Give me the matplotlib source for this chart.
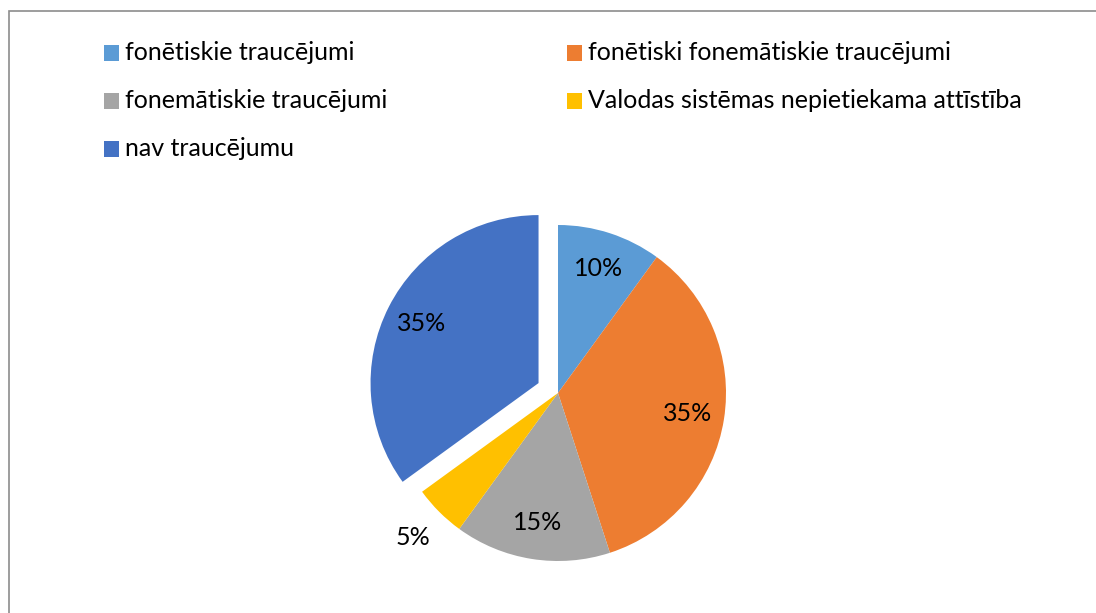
import matplotlib.pyplot as plt
from matplotlib.patches import Rectangle

categories = ['fonētiskie traucējumi', 'fonētiski fonemātiskie traucējumi',
              'fonemātiskie traucējumi', 'Valodas sistēmas nepietiekama attīstība',
              'nav traucējumu']
shares = [10, 35, 15, 5, 35]
colors = ['#5B9BD5', '#ED7D31', '#A5A5A5', '#FFC000', '#4472C4']
explode = [0, 0, 0, 0, 0.13]

plt.rcParams['font.family'] = ['Lato', 'DejaVu Sans']

W, H = 1096, 613
fig = plt.figure(figsize=(W / 100, H / 100), dpi=100)

# chart frame (cut off at right and bottom like the source)
fig.patches.append(Rectangle((9 / W, -0.1), 1.2, 1 - 11 / H + 0.1,
                             transform=fig.transFigure, fill=False,
                             edgecolor='#8C8C8C', linewidth=1.2))

# pie: centre (558, 393) px, radius 168 px
r_px = 168
lim = 1.3
size = 2 * lim * r_px
ax = fig.add_axes([(558 - size / 2) / W, (H - 393 - size / 2) / H, size / W, size / H])
wedges, texts, autotexts = ax.pie(shares, colors=colors, explode=explode,
                                  startangle=90, counterclock=False,
                                  autopct='%d%%', pctdistance=0.78,
                                  wedgeprops=dict(linewidth=0),
                                  textprops=dict(fontsize=18, color='black'))
# small slice label sits outside
x, y = autotexts[3].get_position()
autotexts[3].set_position((x / 0.78 * 1.22, y / 0.78 * 1.22))
ax.set_xlim(-lim, lim)
ax.set_ylim(-lim, lim)
ax.set_aspect('equal')
ax.axis('off')

# legend, row-wise in two columns
col_x = [104, 567]
row_y = [53, 101, 149]
for i, (lab, c) in enumerate(zip(categories, colors)):
    row, col = divmod(i, 2)
    x0 = col_x[col]
    y0 = row_y[row]
    fig.patches.append(Rectangle((x0 / W, (H - y0 - 7.5) / H), 15 / W, 15 / H,
                                 transform=fig.transFigure, facecolor=c,
                                 edgecolor='none'))
    fig.text((x0 + 21) / W, (H - y0) / H, lab, fontsize=18, va='center',
             ha='left', color='black')

fig.savefig('out.png', dpi=100)
